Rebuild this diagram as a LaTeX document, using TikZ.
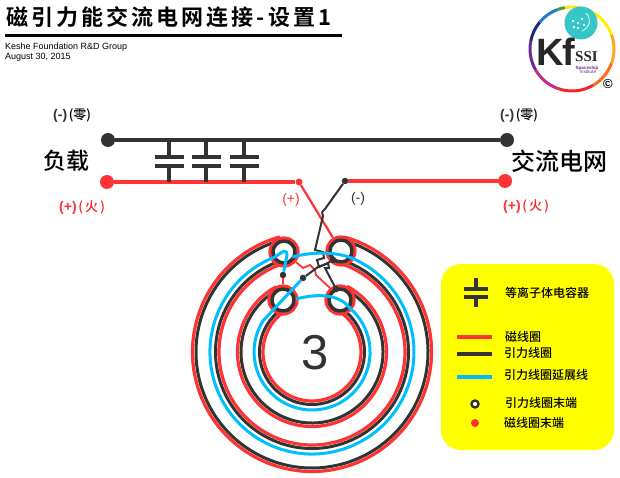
\documentclass[tikz,border=0pt]{standalone}
\usepackage{fontspec}
\setmainfont{Liberation Sans}
\newfontfamily\cjk{Noto Sans CJK SC Medium}
\newfontfamily\titlecjk[LetterSpace=14]{Noto Sans CJK SC Bold}
\newfontfamily\logoserif{Liberation Serif}
\definecolor{coilred}{HTML}{FF3333}
\definecolor{coilblack}{HTML}{333333}
\definecolor{coilcyan}{HTML}{00BFFF}
\definecolor{legendyellow}{HTML}{FFFF00}
\definecolor{firered}{HTML}{FF1A1A}
\definecolor{badgeteal}{HTML}{35C6C8}
\definecolor{logopurple}{HTML}{6A2C8C}
\definecolor{ringa}{HTML}{FFE81A}
\definecolor{ringb}{HTML}{FFF000}
\definecolor{ringc}{HTML}{FFA51E}
\definecolor{ringd}{HTML}{FF6A1E}
\definecolor{ringe}{HTML}{F0282D}
\definecolor{ringf}{HTML}{C8288C}
\definecolor{ringg}{HTML}{6E2C96}
\definecolor{ringh}{HTML}{1E2A78}
\definecolor{ringi}{HTML}{1E7EC8}
\definecolor{ringj}{HTML}{3CA03C}
\begin{document}
\begin{tikzpicture}[x=1pt,y=1pt,
        redcoil/.style={draw=coilred,line width=3.2pt},
        blackcoil/.style={draw=coilblack,line width=3pt},
        cyancoil/.style={draw=coilcyan,line width=3pt},
        bus/.style={line width=3.2pt},
        wirered/.style={draw=coilred,line width=1.8pt},
        wireblack/.style={draw=coilblack,line width=2pt},
        bigdot/.style={circle,inner sep=0pt,minimum size=14pt,fill=#1},
        smalldot/.style={circle,inner sep=0pt,minimum size=6.5pt,fill=coilblack},
        holered/.style={circle,inner sep=0pt,minimum size=28pt,draw=coilred,line width=3.2pt,fill=white},
        holeblack/.style={circle,inner sep=0pt,minimum size=22pt,draw=coilblack,line width=3.5pt,fill=white},
        plate/.style={inner sep=0pt,minimum width=#1,minimum height=3.6pt,fill=coilblack},
        plate/.default=29pt,
        lbl/.style={inner sep=0pt,anchor=west,font=\cjk\fontsize{12}{12}\selectfont},
        big/.style={inner sep=0pt,font=\cjk\fontsize{23}{23}\selectfont},
        sign/.style={inner sep=0pt,anchor=west}]
        \useasboundingbox (0,0) rectangle (620,477);
        \node[inner sep=0pt,anchor=west,font=\titlecjk\fontsize{22}{22}\selectfont] (title) at (6,460) {磁引力能交流电网连接-设置1};
        \draw[line width=3pt] (5,441) -- (342,441);
        \node[inner sep=0pt,anchor=west,font=\fontsize{9}{9}\selectfont] (org) at (5,430) {Keshe Foundation R\&D Group};
        \node[inner sep=0pt,anchor=west,font=\fontsize{9}{9}\selectfont] (date) at (5,420) {August 30, 2015};
        \foreach \a/\b/\c in {60/100/ringa,20/60/ringb,-20/20/ringc,-60/-20/ringd,-110/-60/ringe,-150/-110/ringf,-190/-150/ringg,-220/-190/ringh,-250/-220/ringi,-260/-250/ringj}
          \draw[\c,line width=3pt] (572,428) ++(\a:42) arc (\a:\b:42);
        \node[circle,inner sep=0pt,minimum size=33pt,fill=badgeteal] (badge) at (581,454) {};
        \foreach \p in {(574,450),(578,454),(582,458),(578,449),(573,456),(584,452)}
          \fill[white] \p circle (1.3);
        \draw[white,line width=.7pt] (582,446) .. controls (590,450) and (592,458) .. (586,464);
        \node[inner sep=0pt,anchor=west,font=\bfseries\fontsize{38}{38}\selectfont,text=black!85] (kf) at (536,425) {K\kern-1.5pt f};
        \node[inner sep=0pt,anchor=west,font=\logoserif\bfseries\fontsize{15}{15}\selectfont,text=black!85] (ssi) at (575,420) {SSI};
        \node[inner sep=0pt,font=\bfseries\fontsize{4.6}{5}\selectfont,text=logopurple] (space) at (587,409) {Spaceship};
        \node[inner sep=0pt,font=\fontsize{4.6}{5}\selectfont,text=logopurple] (inst) at (588,405) {Institute};
        \node[inner sep=0pt,font=\bfseries\fontsize{13}{13}\selectfont] (copy) at (608,393) {©};
        \node[bigdot=coilblack] (loadneg) at (108,337) {};
        \node[bigdot=coilblack] (gridneg) at (507,337) {};
        \node[bigdot=coilred] (loadpos) at (107,295) {};
        \node[bigdot=coilred] (gridpos) at (505,296) {};
        \node[circle,inner sep=0pt,minimum size=7pt,fill=coilred] (tappos) at (299,295) {};
        \node[smalldot] (tapneg) at (345,296) {};
        \draw[bus,coilblack] (loadneg) -- (gridneg);
        \draw[bus,coilred] (loadpos) -- (tappos);
        \draw[bus,coilred] (tapneg) -- (gridpos);
        \foreach \i/\x in {a/169,b/206,c/244} {
          \node[plate] (top\i) at (\x,320) {};
          \node[plate] (bot\i) at (\x,311) {};
          \draw[coilblack,line width=4pt] (top\i) -- (top\i |- loadneg);
          \draw[coilblack,line width=4pt] (bot\i) -- (bot\i |- loadpos);
        }
        \node[big] (load) at (66,316) {负载};
        \node[big,font=\cjk\fontsize{24}{24}\selectfont] (grid) at (559,316) {交流电网};
        \node[sign] (negl) at (53,361) {{\bfseries\fontsize{14}{14}\selectfont\color{coilblack}(-)}\,{\cjk\fontsize{13}{13}\selectfont\color{black}(零)}};
        \node[sign] (negr) at (500,361) {{\bfseries\fontsize{14}{14}\selectfont\color{coilblack}(-)}\,{\cjk\fontsize{13}{13}\selectfont\color{black}(零)}};
        \node[sign] (posl) at (59,269) {{\bfseries\fontsize{14}{14}\selectfont\color{coilred}(+)}\,{\cjk\fontsize{13}{13}\selectfont\color{firered}(\,火\,)}};
        \node[sign] (posr) at (503,270) {{\bfseries\fontsize{14}{14}\selectfont\color{coilred}(+)}\,{\cjk\fontsize{13}{13}\selectfont\color{firered}(\,火\,)}};
        \node[inner sep=0pt,font=\fontsize{14}{14}\selectfont,text=coilred] (tapposl) at (291,277) {(+)};
        \node[inner sep=0pt,font=\fontsize{14}{14}\selectfont,text=coilblack] (tapnegl) at (358,278) {(-)};
        \coordinate (hub) at (312,125);
        \foreach \r in {119.5,93}
          \draw[redcoil] (hub) ++(105.6:\r) arc (105.6:434:\r);
        \foreach \r in {116,96.5}
          \draw[blackcoil] (hub) ++(105.6:\r) arc (105.6:434:\r);
        \foreach \r in {74.5,49}
          \draw[redcoil] (hub) ++(119:\r) arc (119:422:\r);
        \foreach \r in {71,52.5}
          \draw[blackcoil] (hub) ++(119:\r) arc (119:422:\r);
        \foreach \n/\p in {ul/{(284,225)},ur/{(341,226)},ll/{(283,177)},lr/{(340,177)}} {
          \node[holered] (\n red) at \p {};
          \node[holeblack] (\n) at \p {};
        }
        \node[smalldot] (enda) at (283,202) {};
        \node[smalldot] (endb) at (303,199) {};
        \node[smalldot] (endc) at (333,217) {};
        \node[smalldot] (endd) at (336,188) {};
        \draw[wirered,line width=2.2pt] (tappos) -- (urred);
        \draw[wirered] (enda) -- (llred);
        \draw[wirered] (ulred.-40) -- (303,209) -- (310,212) -- (315,207) -- (316,202) -- (lrred.130);
        \draw[wireblack] (tapneg) -- (325,268) .. controls (321,265) and (322,263) .. (323,261) -- (315,227) -- (323,225) -- (324,219) -- (317,217) -- (319,210) -- (328,214) -- (329,209) -- (325,209) -- (endd);
        \draw[wireblack] (endb) -- (318,210) -- (326,213) -- (endc);
        \draw[cyancoil] (enda) -- (287,222) .. controls (287.5,227) and (284,227) .. (275.4,220.2) arc (111:425:102) .. controls (340,225) and (315,226) .. (292,220);
        \draw[cyancoil] (endb) -- (263.4,156.6) arc (147:410:58) .. controls (338,184) and (315,183) .. (296,178);
        \node[inner sep=0pt,font=\fontsize{49}{49}\selectfont,text=coilblack] (turns) at (315,124) {3};
        \node[rounded corners=20pt,fill=legendyellow,minimum width=173pt,minimum height=186pt,inner sep=0pt] (legend) at (527.5,120) {};
        \node[plate=24pt] (ltop) at (476,188) {};
        \node[plate=24pt] (lbot) at (476,180) {};
        \draw[coilblack,line width=4pt] (ltop) -- (476,199);
        \draw[coilblack,line width=4pt] (lbot) -- (476,170);
        \draw[redcoil,line width=4pt] (457,140) -- (492,140);
        \draw[blackcoil,line width=4pt] (457,123) -- (492,123);
        \draw[cyancoil,line width=4pt] (457,100) -- (492,100);
        \node[circle,inner sep=0pt,minimum size=7pt,draw=coilblack,line width=2.4pt,fill=white] (lring) at (475,73) {};
        \node[circle,inner sep=0pt,minimum size=8pt,fill=coilred] (ldot) at (475,54) {};
        \node[lbl] at (505,184) {等离子体电容器};
        \node[lbl] at (505,140) {磁线圈};
        \node[lbl] at (504,124) {引力线圈};
        \node[lbl] at (504,102) {引力线圈延展线};
        \node[lbl] at (505,74) {引力线圈末端};
        \node[lbl] at (504,54) {磁线圈末端};
      \end{tikzpicture}
\end{document}
